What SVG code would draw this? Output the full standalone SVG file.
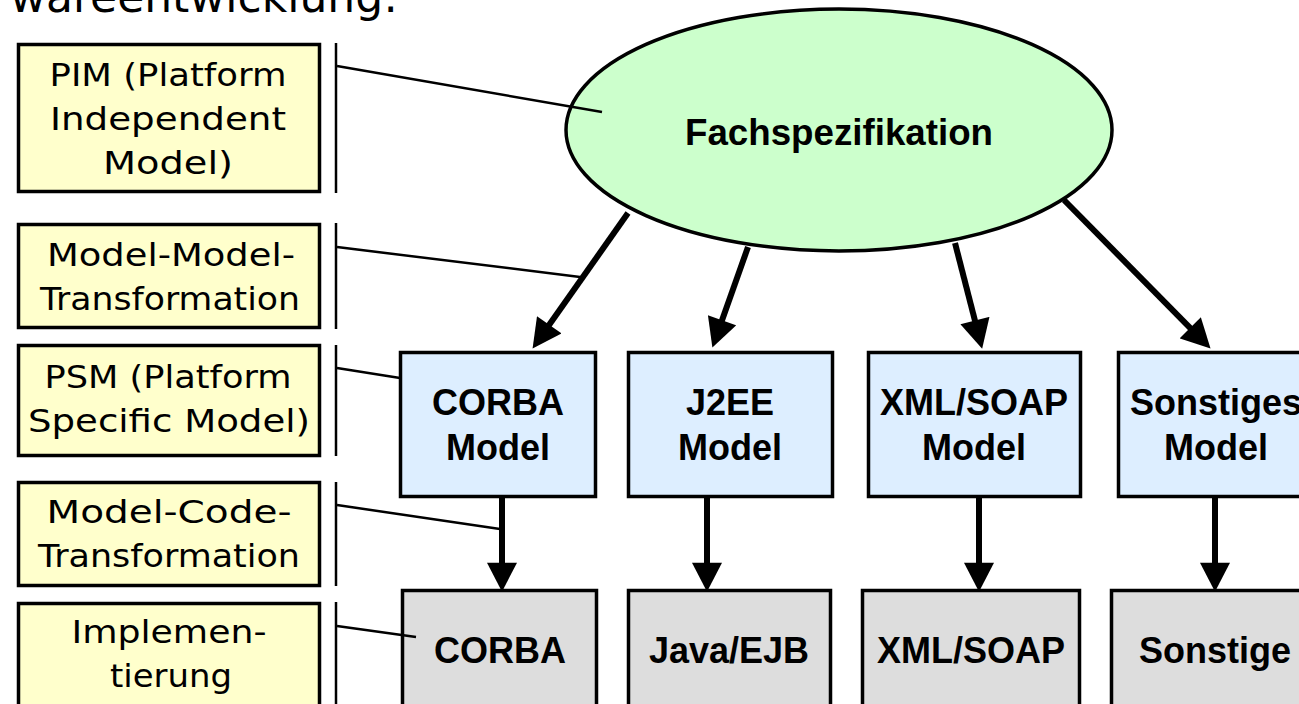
<svg xmlns="http://www.w3.org/2000/svg" width="1299" height="704" viewBox="0 0 1299 704">
<defs>
<marker id="ah" markerUnits="userSpaceOnUse" markerWidth="30" markerHeight="30" refX="8" refY="14.5" orient="auto" viewBox="0 0 28 29">
<path d="M0,0 L28,14.5 L0,29 z" fill="#000"/>
</marker>
<style>
.lbl{fill:#FFFFCC;stroke:#000;stroke-width:3.5}
.pim{font-family:"DejaVu Sans",sans-serif;font-size:32px;fill:#000;text-anchor:middle}
.blue{fill:#DDEEFF;stroke:#000;stroke-width:3.5}
.gray{fill:#DDDDDD;stroke:#000;stroke-width:3.5}
.bt{font-family:"Liberation Sans",Arial,sans-serif;font-weight:bold;font-size:36px;fill:#000;text-anchor:middle}
.arr{stroke:#000;stroke-width:6;fill:none;marker-end:url(#ah)}
.lead{stroke:#000;stroke-width:2.5;fill:none}
.bar{stroke:#000;stroke-width:2.5}
</style>
</defs>
<rect width="1299" height="704" fill="#fff"/>
<text x="398" y="12" font-family="DejaVu Sans,sans-serif" font-size="44" text-anchor="end">wareentwicklung:</text>

<g id="lbl-pim">
<rect class="lbl" x="18.5" y="44.5" width="301" height="147"/>
<text class="pim" x="168" y="86" textLength="237" lengthAdjust="spacingAndGlyphs">PIM (Platform</text>
<text class="pim" x="168" y="130" textLength="236" lengthAdjust="spacingAndGlyphs">Independent</text>
<text class="pim" x="168" y="174" textLength="130" lengthAdjust="spacingAndGlyphs">Model)</text>
<line class="bar" x1="336" y1="43" x2="336" y2="193"/>
</g>
<g id="lbl-mm">
<rect class="lbl" x="18.5" y="224.5" width="301" height="103"/>
<text class="pim" x="171" y="266" textLength="248" lengthAdjust="spacingAndGlyphs">Model-Model-</text>
<text class="pim" x="170" y="310" textLength="260" lengthAdjust="spacingAndGlyphs">Transformation</text>
<line class="bar" x1="336" y1="223" x2="336" y2="329"/>
</g>
<g id="lbl-psm">
<rect class="lbl" x="18.5" y="345.5" width="301" height="110"/>
<text class="pim" x="168" y="388" textLength="247" lengthAdjust="spacingAndGlyphs">PSM (Platform</text>
<text class="pim" x="169" y="432" textLength="282" lengthAdjust="spacingAndGlyphs">Specific Model)</text>
<line class="bar" x1="336" y1="345" x2="336" y2="456"/>
</g>
<g id="lbl-mc">
<rect class="lbl" x="18.5" y="482.5" width="301" height="103"/>
<text class="pim" x="169" y="523" textLength="245" lengthAdjust="spacingAndGlyphs">Model-Code-</text>
<text class="pim" x="169" y="567" textLength="262" lengthAdjust="spacingAndGlyphs">Transformation</text>
<line class="bar" x1="336" y1="482" x2="336" y2="586"/>
</g>
<g id="lbl-impl">
<rect class="lbl" x="18.5" y="603.5" width="301" height="120"/>
<text class="pim" x="169" y="643" textLength="195" lengthAdjust="spacingAndGlyphs">Implemen-</text>
<text class="pim" x="171" y="687" textLength="122" lengthAdjust="spacingAndGlyphs">tierung</text>
<line class="bar" x1="336" y1="602" x2="336" y2="704"/>
</g>

<g id="fach">
<ellipse cx="839" cy="130" rx="273" ry="121" fill="#CCFFCC" stroke="#000" stroke-width="3.5"/>
<text class="bt" x="839" y="145" font-size="36" textLength="308" lengthAdjust="spacingAndGlyphs">Fachspezifikation</text>
</g>

<g id="corba-model">
<rect class="blue" x="400.5" y="352.5" width="195" height="144"/>
<text class="bt" x="498" y="415">CORBA</text>
<text class="bt" x="498" y="460">Model</text>
</g>
<g id="j2ee-model">
<rect class="blue" x="628.5" y="352.5" width="204" height="144"/>
<text class="bt" x="730" y="415">J2EE</text>
<text class="bt" x="730" y="460">Model</text>
</g>
<g id="xml-model">
<rect class="blue" x="868.5" y="352.5" width="212" height="144"/>
<text class="bt" x="974" y="415">XML/SOAP</text>
<text class="bt" x="974" y="460">Model</text>
</g>
<g id="sonst-model">
<rect class="blue" x="1118.5" y="352.5" width="196" height="144"/>
<text class="bt" x="1216" y="415">Sonstiges</text>
<text class="bt" x="1216" y="460">Model</text>
</g>

<g id="corba">
<rect class="gray" x="402.5" y="590.5" width="194" height="130"/>
<text class="bt" x="500" y="663">CORBA</text>
</g>
<g id="java">
<rect class="gray" x="628.5" y="590.5" width="202" height="130"/>
<text class="bt" x="729" y="663">Java/EJB</text>
</g>
<g id="xml">
<rect class="gray" x="862.5" y="590.5" width="217" height="130"/>
<text class="bt" x="971" y="663">XML/SOAP</text>
</g>
<g id="sonst">
<rect class="gray" x="1111.5" y="590.5" width="210" height="130"/>
<text class="bt" x="1215" y="663">Sonstige</text>
</g>

<g id="connectors">
<line class="arr" x1="628" y1="213" x2="544.5" y2="331.6"/>
<line class="arr" x1="748" y1="247" x2="719.3" y2="328"/>
<line class="arr" x1="955" y1="243" x2="977" y2="328.6"/>
<line class="arr" x1="1064" y1="200" x2="1196" y2="333.8"/>
<line class="arr" x1="502" y1="498" x2="502" y2="571"/>
<line class="arr" x1="707" y1="498" x2="707" y2="571"/>
<line class="arr" x1="979" y1="498" x2="979" y2="571"/>
<line class="arr" x1="1215" y1="498" x2="1215" y2="571"/>
<line class="lead" x1="337" y1="66" x2="602" y2="112"/>
<line class="lead" x1="337" y1="247" x2="580" y2="277"/>
<line class="lead" x1="337" y1="368" x2="400" y2="378"/>
<line class="lead" x1="337" y1="505" x2="500" y2="529"/>
<line class="lead" x1="337" y1="626" x2="416" y2="637"/>
</g>
</svg>
